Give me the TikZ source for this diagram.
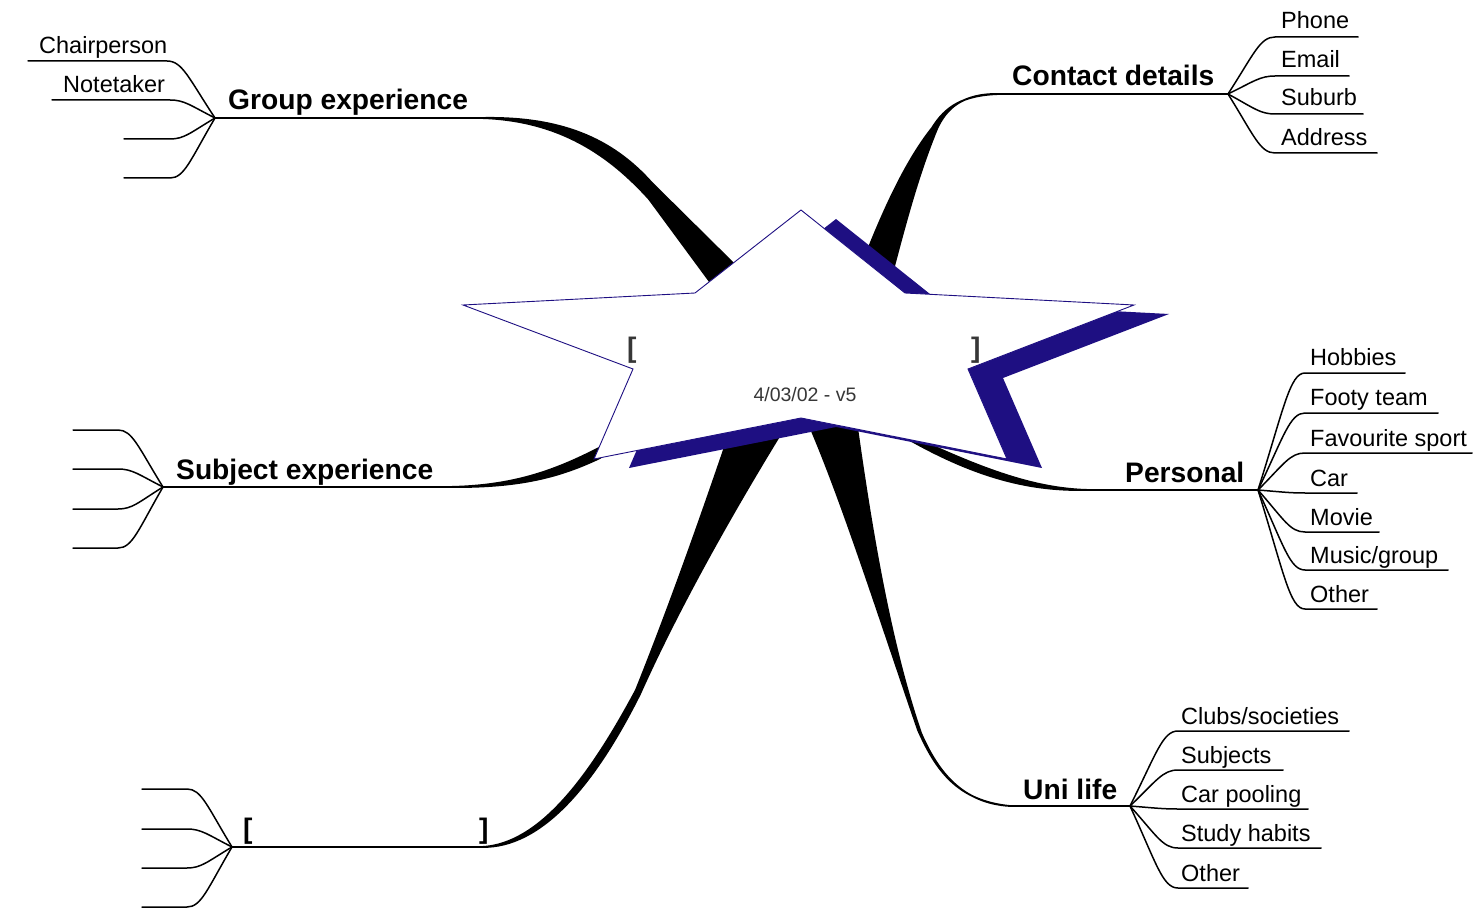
\documentclass[tikz,border=0pt]{standalone}
\usepackage{fontspec}
\setmainfont{Liberation Sans}
\usetikzlibrary{calc}
\definecolor{starblue}{RGB}{30,15,130}
\definecolor{dgray}{RGB}{55,55,55}
\newcommand\subbr[3]{\draw[thinline] let \p1=(#1), \p2=(#2) in (#1) .. controls ({\x1+0.55*(\x2-\x1)},{\y1+0.7*(\y2-\y1)}) and ({\x1+0.68*(\x2-\x1)},\y2) .. (#2) -- (#3);}
\newcommand\starshape{(801,210) -- (905,293) -- (1134,305) -- (968,369) -- (1007,459) -- (801,418) -- (594,459) -- (633,369) -- (463,305) -- (695,293) -- cycle}
\begin{document}
\begin{tikzpicture}[x=1pt,y=-1pt,
  mainlab/.style={font=\fontsize{28.2}{32}\selectfont\bfseries, anchor=base west, inner sep=0pt},
  sublab/.style={font=\fontsize{23.5}{27}\selectfont, anchor=base west, inner sep=0pt},
  brk/.style={font=\fontsize{28.2}{32}\selectfont\bfseries, anchor=base west, inner sep=0pt},
  thinline/.style={line width=1.5pt, line cap=round, line join=round},
  mainline/.style={line width=2.2pt},
  wedge/.style={fill=black, draw=black, line width=1.8pt, line join=round},
]
\useasboundingbox (0,0) rectangle (1481,909);

% hubs and main line ends
\coordinate (G) at (215,118);  \coordinate (G2) at (480,118);
\coordinate (C) at (1228,94);  \coordinate (C2) at (1000,94);
\coordinate (S) at (163,487);  \coordinate (S2) at (447,487);
\coordinate (P) at (1258,490); \coordinate (P2) at (1090,490);
\coordinate (U) at (1130,806); \coordinate (U2) at (1010,806);
\coordinate (B) at (232,847);  \coordinate (B2) at (482,847);

% tapered branches
\filldraw[wedge] (G2) .. controls (560,116) and (612,138) .. (652,183) -- (744,274) -- (719,294) -- (649,199) .. controls (610,156) and (560,120) .. (G2) -- cycle;
\filldraw[wedge] (C2) .. controls (962,93) and (946,109) .. (937,129) .. controls (918,175) and (905,225) .. (892,274) -- (862,265) .. controls (885,205) and (908,158) .. (932,128) .. controls (945,107) and (962,95) .. (C2) -- cycle;
\filldraw[wedge] (S2) .. controls (520,486) and (565,468) .. (628,432) -- (600,458) .. controls (560,477) and (520,488) .. (S2) -- cycle;
\filldraw[wedge] (P2) .. controls (1040,489) and (990,474) .. (897,429) -- (901,435) .. controls (985,484) and (1040,491) .. (P2) -- cycle;
\filldraw[wedge] (U2) .. controls (958,801) and (936,771) .. (918,730) .. controls (880,620) and (842,500) .. (808,422) -- (856,420) .. controls (870,520) and (889,640) .. (921,733) .. controls (938,772) and (962,803) .. (U2) -- cycle;
\filldraw[wedge] (B2) .. controls (540,844) and (590,776) .. (636,690) .. controls (670,605) and (700,520) .. (730,432) -- (783,430) .. controls (740,500) and (682,600) .. (640,694) .. controls (595,784) and (542,848) .. (B2) -- cycle;

% main lines
\draw[mainline] (G) -- (G2);
\draw[mainline] (C2) -- (C);
\draw[mainline] (S) -- (S2);
\draw[mainline] (P2) -- (P);
\draw[mainline] (U2) -- (U);
\draw[mainline] (B) -- (B2);

% star with shadow
\fill[starblue, shift={(35,9)}] \starshape;
\filldraw[fill=white, draw=starblue, line width=0.9pt] \starshape;

% centre text
\node[brk, text=dgray] (lb) at (627,357) {[};
\node[brk, text=dgray] (rb) at (971,357) {]};
\node[font=\fontsize{19.5}{22}\selectfont, text=dgray, anchor=base, inner sep=0pt] (date) at (805,401) {4/03/02 - v5};

% main labels
\node[mainlab] (tG) at (228,110) {Group experience};
\node[mainlab] (tC) at (1012,86) {Contact details};
\node[mainlab] (tS) at (176,479) {Subject experience};
\node[mainlab] (tP) at (1125,482) {Personal};
\node[mainlab] (tU) at (1023,799) {Uni life};
\node[brk] (blb) at (243,838) {[};
\node[brk] (brb) at (479,838) {]};

% Group experience sub-branches
\coordinate (g1) at (167,61);  \coordinate (g1e) at (28,61);
\coordinate (g2) at (170,100); \coordinate (g2e) at (52,100);
\coordinate (g3) at (170,139); \coordinate (g3e) at (124,139);
\coordinate (g4) at (170,178); \coordinate (g4e) at (124,178);
\subbr{G}{g1}{g1e} \subbr{G}{g2}{g2e} \subbr{G}{g3}{g3e} \subbr{G}{g4}{g4e}
\node[sublab] (tg1) at (39,54) {Chairperson};
\node[sublab] (tg2) at (63,93) {Notetaker};

% Contact details sub-branches
\coordinate (c1) at (1275,37);  \coordinate (c1e) at (1358,37);
\coordinate (c2) at (1275,76);  \coordinate (c2e) at (1349,76);
\coordinate (c3) at (1275,114); \coordinate (c3e) at (1363,114);
\coordinate (c4) at (1275,153); \coordinate (c4e) at (1377,153);
\subbr{C}{c1}{c1e} \subbr{C}{c2}{c2e} \subbr{C}{c3}{c3e} \subbr{C}{c4}{c4e}
\node[sublab] (tc1) at (1281,29) {Phone};
\node[sublab] (tc2) at (1281,68) {Email};
\node[sublab] (tc3) at (1281,106) {Suburb};
\node[sublab] (tc4) at (1281,146) {Address};

% Subject experience sub-branches
\coordinate (s1) at (118,430); \coordinate (s1e) at (73,430);
\coordinate (s2) at (118,469); \coordinate (s2e) at (73,469);
\coordinate (s3) at (118,509); \coordinate (s3e) at (73,509);
\coordinate (s4) at (118,548); \coordinate (s4e) at (73,548);
\subbr{S}{s1}{s1e} \subbr{S}{s2}{s2e} \subbr{S}{s3}{s3e} \subbr{S}{s4}{s4e}

% Personal sub-branches
\coordinate (p1) at (1305,373); \coordinate (p1e) at (1405,373);
\coordinate (p2) at (1305,413); \coordinate (p2e) at (1438,413);
\coordinate (p3) at (1305,453); \coordinate (p3e) at (1472,453);
\coordinate (p4) at (1305,493); \coordinate (p4e) at (1357,493);
\coordinate (p5) at (1305,532); \coordinate (p5e) at (1379,532);
\coordinate (p6) at (1305,570); \coordinate (p6e) at (1448,570);
\coordinate (p7) at (1305,609); \coordinate (p7e) at (1377,609);
\subbr{P}{p1}{p1e} \subbr{P}{p2}{p2e} \subbr{P}{p3}{p3e} \subbr{P}{p4}{p4e}
\subbr{P}{p5}{p5e} \subbr{P}{p6}{p6e} \subbr{P}{p7}{p7e}
\node[sublab] (tp1) at (1310,366) {Hobbies};
\node[sublab] (tp2) at (1310,406) {Footy team};
\node[sublab] (tp3) at (1310,446) {Favourite sport};
\node[sublab] (tp4) at (1310,486) {Car};
\node[sublab] (tp5) at (1310,525) {Movie};
\node[sublab] (tp6) at (1310,563) {Music/group};
\node[sublab] (tp7) at (1310,602) {Other};

% Uni life sub-branches
\coordinate (u1) at (1178,731); \coordinate (u1e) at (1349,731);
\coordinate (u2) at (1178,770); \coordinate (u2e) at (1283,770);
\coordinate (u3) at (1178,809); \coordinate (u3e) at (1308,809);
\coordinate (u4) at (1178,848); \coordinate (u4e) at (1321,848);
\coordinate (u5) at (1178,888); \coordinate (u5e) at (1248,888);
\subbr{U}{u1}{u1e} \subbr{U}{u2}{u2e} \subbr{U}{u3}{u3e} \subbr{U}{u4}{u4e} \subbr{U}{u5}{u5e}
\node[sublab] (tu1) at (1181,724) {Clubs/societies};
\node[sublab] (tu2) at (1181,763) {Subjects};
\node[sublab] (tu3) at (1181,802) {Car pooling};
\node[sublab] (tu4) at (1181,841) {Study habits};
\node[sublab] (tu5) at (1181,881) {Other};

% Bottom-left sub-branches
\coordinate (b1) at (187,789); \coordinate (b1e) at (142,789);
\coordinate (b2) at (187,829); \coordinate (b2e) at (142,829);
\coordinate (b3) at (187,868); \coordinate (b3e) at (142,868);
\coordinate (b4) at (187,907); \coordinate (b4e) at (142,907);
\subbr{B}{b1}{b1e} \subbr{B}{b2}{b2e} \subbr{B}{b3}{b3e} \subbr{B}{b4}{b4e}
\end{tikzpicture}
\end{document}
